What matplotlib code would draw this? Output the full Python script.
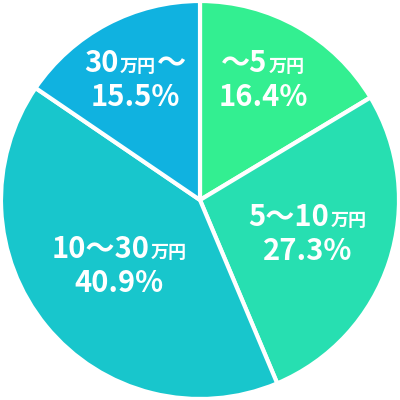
import matplotlib
matplotlib.use("Agg")
import matplotlib.pyplot as plt
from matplotlib.offsetbox import TextArea, HPacker, VPacker, AnnotationBbox

plt.rcParams['font.family'] = ['Noto Sans CJK JP', 'DejaVu Sans']

# data
labels = [['～5', '万円', ''], ['5～10', '万円', ''], ['10～30', '万円', ''], ['30', '万円', '～']]
shares = [16.4, 27.3, 40.9, 15.5]
colors = ['#33ef91', '#27dfb1', '#18c6cc', '#10b2e0']

# label centres in axes fraction (x, y)
spots = [(0.658, 0.80), (0.768, 0.415), (0.298, 0.335), (0.338, 0.80)]

fig = plt.figure(figsize=(4, 4), dpi=100)
ax = fig.add_axes([0, 0, 1, 1])
ax.pie(shares, colors=colors, startangle=90, counterclock=False, radius=1,
       wedgeprops=dict(edgecolor='white', linewidth=3))
ax.set_xlim(-1.005, 1.005)
ax.set_ylim(-1.005, 1.005)
ax.set_aspect('equal')
ax.axis('off')

big = dict(color='white', fontsize=21, fontweight='bold')
small = dict(color='white', fontsize=13, fontweight='bold')

for lab, val, (sx, sy) in zip(labels, shares, spots):
    parts = [TextArea(lab[0], textprops=big), TextArea(lab[1], textprops=small)]
    if lab[2]:
        parts.append(TextArea(lab[2], textprops=big))
    line1 = HPacker(children=parts, align='baseline', pad=0, sep=1)
    line2 = TextArea('%.1f%%' % val, textprops=big)
    box = VPacker(children=[line1, line2], align='center', pad=0, sep=3)
    ab = AnnotationBbox(box, (sx, sy), xycoords='axes fraction',
                        box_alignment=(0.5, 0.5), frameon=False)
    ax.add_artist(ab)

fig.savefig('out.png', dpi=100)
